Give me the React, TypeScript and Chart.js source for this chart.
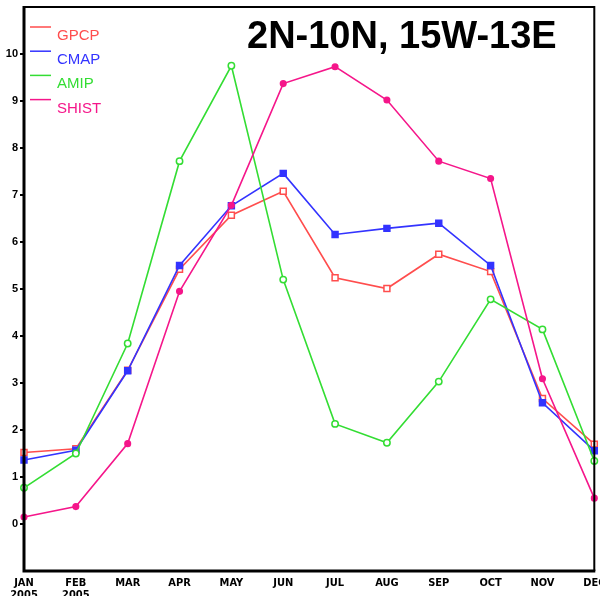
import React, { useEffect, useRef } from "react";
import { Chart, registerables } from "chart.js";

Chart.register(...registerables);

const months = [["JAN", "2005"], ["FEB", "2005"], "MAR", "APR", "MAY", "JUN", "JUL", "AUG", "SEP", "OCT", "NOV", "DEC"];
const gpcp = [1.52, 1.6, 3.27, 5.42, 6.57, 7.08, 5.24, 5.01, 5.74, 5.37, 2.67, 1.7];
const cmap = [1.36, 1.57, 3.26, 5.5, 6.77, 7.46, 6.16, 6.29, 6.4, 5.5, 2.58, 1.56];
const amip = [0.77, 1.5, 3.84, 7.72, 9.75, 5.2, 2.13, 1.73, 3.03, 4.78, 4.14, 1.34];
const shist = [0.15, 0.37, 1.71, 4.95, 6.78, 9.37, 9.73, 9.02, 7.72, 7.35, 3.09, 0.55];
const seriesNames = ["GPCP", "CMAP", "AMIP", "SHIST"];
const seriesColors = ["#ff4d4d", "#3333ff", "#33dd33", "#f5168a"];
const titleText = "2N-10N, 15W-13E";
const yMin = -1;
const yMax = 11;

const overlayPlugin = {
  id: "overlay",
  afterDraw(chart: any) {
    const { ctx, chartArea } = chart;
    const { left, right, top, bottom } = chartArea;
    ctx.save();
    // frame
    ctx.strokeStyle = "#000";
    ctx.lineWidth = 2;
    ctx.beginPath();
    ctx.moveTo(left, top);
    ctx.lineTo(right, top);
    ctx.lineTo(right, bottom);
    ctx.stroke();
    ctx.lineWidth = 3;
    ctx.beginPath();
    ctx.moveTo(left, top - 1);
    ctx.lineTo(left, bottom);
    ctx.lineTo(right + 1, bottom);
    ctx.stroke();
    // title
    ctx.fillStyle = "#000";
    ctx.font = "bold 38px 'Liberation Sans', Arial, sans-serif";
    ctx.textAlign = "left";
    ctx.textBaseline = "alphabetic";
    ctx.fillText(titleText, 247, 48);
    // legend
    ctx.font = "15px 'Liberation Sans', Arial, sans-serif";
    seriesNames.forEach((name, i) => {
      const ly = 27 + i * 24.2;
      ctx.strokeStyle = seriesColors[i];
      ctx.lineWidth = 1.5;
      ctx.beginPath();
      ctx.moveTo(30, ly);
      ctx.lineTo(51, ly);
      ctx.stroke();
      ctx.fillStyle = seriesColors[i];
      ctx.fillText(name, 57, ly + 13);
    });
    ctx.restore();
  },
};

export default function App() {
  const ref = useRef<HTMLCanvasElement>(null);
  useEffect(() => {
    if (!ref.current) return;
    const mk = (i: number, data: number[], style: string, filled: boolean, radius: number, order: number) => ({
      label: seriesNames[i],
      data,
      borderColor: seriesColors[i],
      backgroundColor: filled ? seriesColors[i] : "#ffffff",
      pointBorderColor: seriesColors[i],
      pointBackgroundColor: filled ? seriesColors[i] : "#ffffff",
      pointStyle: style,
      pointRadius: radius,
      pointBorderWidth: 1.5,
      borderWidth: 1.6,
      tension: 0,
      fill: false,
      order,
      clip: false as any,
    });
    const chart = new Chart(ref.current, {
      type: "line",
      data: {
        labels: months as any,
        datasets: [
          mk(0, gpcp, "rect", false, 4.2, 4),
          mk(1, cmap, "rect", true, 4.2, 3),
          mk(2, amip, "circle", false, 3.2, 2),
          mk(3, shist, "circle", true, 2.8, 1),
        ] as any,
      },
      options: {
        animation: false,
        responsive: false,
        maintainAspectRatio: false,
        layout: { padding: { top: 7, right: 2, left: 0, bottom: 0 } },
        plugins: { legend: { display: false }, tooltip: { enabled: false }, title: { display: false } },
        scales: {
          x: {
            type: "category",
            offset: false,
            grid: { display: false, drawTicks: false },
            border: { display: false },
            ticks: {
              color: "#000",
              padding: 6,
              autoSkip: false,
              maxRotation: 0,
              font: { family: "'Liberation Sans Narrow', 'DejaVu Sans Condensed', Arial, sans-serif", size: 11, weight: "bold", lineHeight: 1.1 },
            },
            afterFit: (s: any) => { s.height = 25; s.paddingLeft = 0; s.paddingRight = 0; },
          },
          y: {
            min: yMin,
            max: yMax,
            grid: {
              drawOnChartArea: false,
              drawTicks: true,
              tickLength: 4,
              color: (c: any) => (c.tick && (c.tick.value < 0 || c.tick.value > 10) ? "rgba(0,0,0,0)" : "#000"),
              lineWidth: 2,
            },
            border: { display: false },
            ticks: {
              stepSize: 1,
              color: "#000",
              padding: 2,
              font: { family: "'Liberation Sans', Arial, sans-serif", size: 11, weight: "bold" },
              callback: (v: any) => (v < 0 || v > 10 ? "" : String(v)),
            },
            afterFit: (s: any) => { s.width = 24; s.paddingTop = 0; s.paddingBottom = 0; },
          },
        },
      },
      plugins: [overlayPlugin],
    });
    return () => chart.destroy();
  }, []);
  return (
    <div style={{ position: "fixed", left: 0, top: 0, width: 600, height: 596, background: "#fff" }}>
      <canvas ref={ref} width={600} height={596} style={{ width: 600, height: 596, display: "block" }} />
    </div>
  );
}
